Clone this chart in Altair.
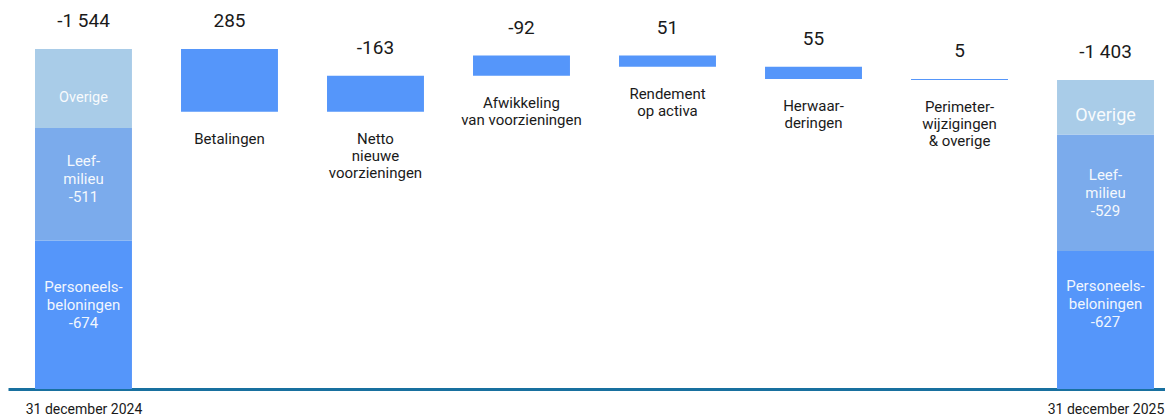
import altair as alt
import pandas as pd

# ---------------- data ----------------
categories = ["31 december 2024", "Betalingen", "Netto\nnieuwe\nvoorzieningen",
              "Afwikkeling\nvan voorzieningen", "Rendement\nop activa",
              "Herwaar-\nderingen", "Perimeter-\nwijzigingen\n& overige",
              "31 december 2025"]
start_total = -1544
end_total = -1403
changes = [285, -163, -92, 51, 55, 5]
segment_keys = ["Personeelsbeloningen", "Leefmilieu", "Overige"]
start_segments = [-674, -511, -359]
end_segments = [-627, -529, -247]
start_segment_labels = ["Personeels-\nbeloningen\n-674", "Leef-\nmilieu\n-511", "Overige"]
end_segment_labels = ["Personeels-\nbeloningen\n-627", "Leef-\nmilieu\n-529", "Overige"]

# ---------------- styles ----------------
seg_colors = ["#5596fa", "#7babec", "#a9cce8"]
change_color = "#5596fa"
axis_color = "#18709f"
px_per_unit = 381 / 1730
seg_line_h = 18
start_label_shift_px = [-10, -5, 10]
end_label_shift_px = [-16, 0, 9]
start_label_size = [15, 15, 14.5]
end_label_size = [15, 15, 18]
half_w = 0.332


def fmt(v):
    return f"{v:,}".replace(",", " ")


bars, seglabels = [], []
for idx, segs, labs, shifts, sizes in [
    (0, start_segments, start_segment_labels, start_label_shift_px, start_label_size),
    (len(categories) - 1, end_segments, end_segment_labels, end_label_shift_px, end_label_size),
]:
    lo = 0
    for key, v, lab, sh, fs in zip(segment_keys, segs, labs, shifts, sizes):
        hi = lo + abs(v)
        bars.append(dict(x=idx - half_w, x2=idx + half_w, lo=lo, hi=hi, c=key))
        n_lines = lab.count("\n") + 1
        first_line_px = sh - (n_lines - 1) * seg_line_h / 2
        seglabels.append(dict(x=idx, y=(lo + hi) / 2 - first_line_px / px_per_unit, t=lab, fs=fs))
        lo = hi

values = [dict(x=0, top=abs(start_total), t=fmt(start_total))]
catlabels = []
m = abs(start_total)
for i, c in enumerate(changes, start=1):
    m2 = m - c
    lo, hi = min(m, m2), max(m, m2)
    bars.append(dict(x=i - half_w, x2=i + half_w, lo=lo, hi=hi, c="change"))
    values.append(dict(x=i, top=hi, t=fmt(c)))
    catlabels.append(dict(x=i, bottom=lo, t=categories[i]))
    m = m2
values.append(dict(x=len(categories) - 1, top=abs(end_total), t=fmt(end_total)))

bars_df = pd.DataFrame(bars)
seg_df = pd.DataFrame(seglabels)
val_df = pd.DataFrame(values)
cat_df = pd.DataFrame(catlabels)

xscale = alt.Scale(domain=[-0.517, 7.4075], nice=False, zero=False)
yscale = alt.Scale(domain=[0, 1730], nice=False, zero=False)

label_expr = ("datum.value == 0 ? '%s' : '%s'" % (categories[0], categories[-1]))
x_axis = alt.Axis(values=[0, 7], labelExpr=label_expr, title=None,
                  grid=False, ticks=False, tickSize=0, labelPadding=13,
                  labelFontSize=14, labelColor="#1a1a1a",
                  domainColor=axis_color, domainWidth=3,
                  labelFont="Roboto")

bar_layer = alt.Chart(bars_df).mark_rect().encode(
    x=alt.X("x:Q", scale=xscale, axis=x_axis),
    x2="x2:Q",
    y=alt.Y("lo:Q", scale=yscale, axis=None),
    y2="hi:Q",
    color=alt.Color("c:N", legend=None,
                    scale=alt.Scale(domain=segment_keys + ["change"],
                                    range=seg_colors + [change_color])),
)

seg_text = alt.Chart(seg_df).mark_text(
    color="white", opacity=0.92, baseline="middle", align="center",
    lineBreak="\n", lineHeight=seg_line_h, font="Roboto"
).encode(
    x=alt.X("x:Q", scale=xscale, axis=x_axis),
    y=alt.Y("y:Q", scale=yscale, axis=None),
    text="t:N",
    size=alt.Size("fs:Q", scale=None, legend=None),
)

val_text = alt.Chart(val_df).mark_text(
    color="#1a1a1a", fontSize=19, baseline="alphabetic", align="center",
    dy=-22, font="Roboto"
).encode(
    x=alt.X("x:Q", scale=xscale, axis=x_axis),
    y=alt.Y("top:Q", scale=yscale, axis=None),
    text="t:N",
)

cat_text = alt.Chart(cat_df).mark_text(
    color="#1a1a1a", fontSize=15, baseline="alphabetic", align="center",
    dy=32, lineBreak="\n", lineHeight=17, font="Roboto"
).encode(
    x=alt.X("x:Q", scale=xscale, axis=x_axis),
    y=alt.Y("bottom:Q", scale=yscale, axis=None),
    text="t:N",
)

chart = alt.layer(bar_layer, seg_text, val_text, cat_text).properties(
    width=1157, height=381,
    autosize=alt.AutoSizeParams(type="none"),
    padding={"left": 0, "top": 0, "right": 0, "bottom": 30},
).configure(font="Roboto").configure_view(strokeWidth=0, stroke="transparent")

chart.save("out.html", embed_options={"renderer": "svg", "actions": False})
